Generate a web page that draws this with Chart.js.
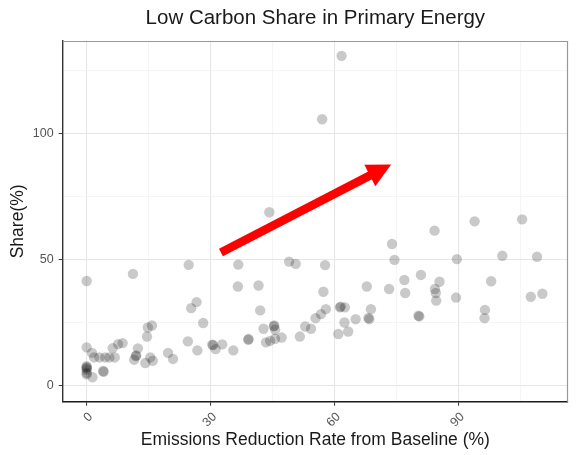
<!DOCTYPE html>
<html>
<head>
<meta charset="utf-8">
<script src="https://cdn.jsdelivr.net/npm/chart.js@4.4.1/dist/chart.umd.min.js"></script>
<style>
  html, body { margin: 0; padding: 0; background: #ffffff; }
  #wrap { width: 577px; height: 455px; position: relative; }
</style>
</head>
<body>
<div id="wrap"><canvas id="c" width="577" height="455"></canvas></div>
<script>
// Emissions reduction rate from baseline (%)
const reductionRate = [
  0, 0, 0, 0, 0, 0, 0, 0, 1.4, 1.3,
  1.8, 3.1, 4.5, 5.5, 6.8, 6.3, 7.6, 8.7, 4.0, 4.1,
  11.2, 12.4, 11.9, 12.0, 11.5, 14.2, 15.4, 16.0, 19.7, 20.9,
  14.8, 15.8, 14.6, 24.7, 25.3, 26.6, 24.5, 28.2, 26.8, 30.4,
  30.6, 31.2, 32.8, 35.5, 36.7, 36.6, 41.6, 42.0, 39.1, 39.2,
  42.8, 45.4, 45.3, 45.6, 43.4, 44.4, 45.6, 47.2, 51.6, 52.9,
  54.3, 49.0, 50.6, 44.2, 57.7, 57.3, 57.9, 56.7, 55.4, 61.5,
  61.3, 62.5, 62.4, 60.9, 63.3, 65.1, 68.4, 68.2, 68.8, 67.8,
  57.0, 61.7, 73.2, 73.9, 74.5, 76.9, 77.1, 80.9, 80.3, 80.5,
  84.2, 85.4, 84.3, 84.5, 84.6, 89.4, 89.6, 93.9, 105.4, 100.6,
  109.0, 97.9, 107.5, 110.3, 96.4, 96.3
];
// Low carbon share in primary energy (%)
const lowCarbonShare = [
  41.5, 15.1, 7.6, 7.2, 6.8, 6.2, 5.0, 4.4, 3.2, 12.9,
  11.1, 11.1, 11.1, 11.1, 11.1, 14.8, 16.4, 16.8, 5.7, 5.4,
  44.3, 14.7, 11.6, 11.9, 10.2, 8.9, 11.1, 9.8, 12.9, 10.5,
  23.0, 23.8, 19.4, 47.9, 30.7, 33.1, 17.5, 24.8, 13.9, 16.2,
  16.0, 14.4, 16.3, 13.9, 48.0, 39.3, 39.7, 29.8, 18.1, 18.4,
  22.5, 23.8, 23.5, 22.1, 17.1, 17.7, 18.5, 19.0, 19.4, 23.4,
  22.5, 49.2, 48.3, 68.8, 47.8, 37.2, 30.3, 28.3, 26.7, 31.3,
  31.0, 31.0, 25.0, 20.4, 21.4, 26.3, 26.3, 26.8, 30.3, 39.3,
  105.8, 131.0, 38.3, 56.2, 49.9, 41.9, 36.7, 43.9, 27.7, 27.4,
  61.5, 41.2, 38.3, 36.7, 33.7, 34.9, 50.2, 65.2, 66.0, 51.5,
  51.1, 41.4, 35.2, 36.4, 30.0, 26.7
];
// Axis ticks
const xTickLabels = [0, 30, 60, 90];
const yTickLabels = [0, 50, 100];
// Trend arrow annotation (data coordinates: [rate, share])
const arrowFrom = [32.5, 52.8];
const arrowTo = [73.7, 87.8];

const points = reductionRate.map((x, i) => ({ x: x, y: lowCarbonShare[i] }));
const FONT = "'Liberation Sans', Arial, Helvetica, sans-serif";

const frameAndArrow = {
  id: 'frameAndArrow',
  beforeDatasetsDraw(chart) {
    const { ctx, chartArea: a } = chart;
    ctx.save();
    ctx.strokeStyle = '#999999';
    ctx.lineWidth = 1.2;
    ctx.beginPath();
    ctx.moveTo(a.left, a.top + 0.5);
    ctx.lineTo(a.right - 0.5, a.top + 0.5);
    ctx.lineTo(a.right - 0.5, a.bottom);
    ctx.stroke();
    ctx.restore();
  },
  afterDatasetsDraw(chart) {
    const { ctx } = chart;
    const xs = chart.scales.x, ys = chart.scales.y;
    const x0 = xs.getPixelForValue(arrowFrom[0]), y0 = ys.getPixelForValue(arrowFrom[1]);
    const x1 = xs.getPixelForValue(arrowTo[0]), y1 = ys.getPixelForValue(arrowTo[1]);
    const ang = Math.atan2(y1 - y0, x1 - x0);
    const headLen = 24, headHalf = 12;
    const bx = x1 - headLen * Math.cos(ang), by = y1 - headLen * Math.sin(ang);
    ctx.save();
    ctx.strokeStyle = '#ff0000';
    ctx.fillStyle = '#ff0000';
    ctx.lineWidth = 8.5;
    ctx.lineCap = 'butt';
    ctx.beginPath();
    ctx.moveTo(x0, y0);
    ctx.lineTo(bx + 2 * Math.cos(ang), by + 2 * Math.sin(ang));
    ctx.stroke();
    ctx.beginPath();
    ctx.moveTo(x1, y1);
    ctx.lineTo(bx + headHalf * Math.sin(ang), by - headHalf * Math.cos(ang));
    ctx.lineTo(bx - headHalf * Math.sin(ang), by + headHalf * Math.cos(ang));
    ctx.closePath();
    ctx.fill();
    ctx.restore();
  }
};

new Chart(document.getElementById('c'), {
  type: 'scatter',
  data: {
    datasets: [{
      data: points,
      backgroundColor: 'rgba(0,0,0,0.21)',
      borderWidth: 0,
      pointRadius: 5.2,
      pointHoverRadius: 5.2
    }]
  },
  options: {
    responsive: false,
    animation: false,
    events: [],
    layout: { padding: { left: 0, right: 9, top: 0, bottom: 0 } },
    plugins: {
      legend: { display: false },
      tooltip: { enabled: false },
      title: {
        display: true,
        text: 'Low Carbon Share in Primary Energy',
        fullSize: false,
        color: '#1a1a1a',
        font: { family: FONT, size: 20.5, weight: 'normal', lineHeight: 1.2 },
        padding: { top: 5.7, bottom: 10.7 }
      }
    },
    scales: {
      x: {
        type: 'linear',
        min: -5.8,
        max: 116.5,
        afterFit(s) { s.height = 53.3; },
        ticks: {
          stepSize: 15,
          includeBounds: false,
          autoSkip: false,
          minRotation: 45,
          maxRotation: 45,
          labelOffset: 4,
          padding: 4,
          color: '#555555',
          font: { family: FONT, size: 12.5 },
          callback: v => xTickLabels.includes(v) ? String(v) : ''
        },
        grid: {
          color: c => (c.tick && xTickLabels.includes(c.tick.value)) ? '#e6e6e6' : '#f0f0f0',
          lineWidth: c => (c.tick && xTickLabels.includes(c.tick.value)) ? 1.1 : 0.7,
          tickColor: c => (c.tick && xTickLabels.includes(c.tick.value)) ? '#333333' : 'rgba(0,0,0,0)',
          tickLength: 4,
          tickWidth: 1
        },
        border: { display: true, color: '#1a1a1a', width: 1.4 },
        title: {
          display: true,
          text: 'Emissions Reduction Rate from Baseline (%)',
          color: '#1a1a1a',
          font: { family: FONT, size: 17.5, lineHeight: 1.2 },
          padding: { top: 0, bottom: 4.5 }
        }
      },
      y: {
        type: 'linear',
        min: -6.5,
        max: 136.9,
        afterFit(s) { s.width = 62.7; },
        ticks: {
          stepSize: 25,
          includeBounds: false,
          autoSkip: false,
          padding: 5,
          color: '#555555',
          font: { family: FONT, size: 12.5 },
          callback: v => yTickLabels.includes(v) ? String(v) : ''
        },
        grid: {
          color: c => (c.tick && yTickLabels.includes(c.tick.value)) ? '#e6e6e6' : '#f0f0f0',
          lineWidth: c => (c.tick && yTickLabels.includes(c.tick.value)) ? 1.1 : 0.7,
          tickColor: c => (c.tick && yTickLabels.includes(c.tick.value)) ? '#333333' : 'rgba(0,0,0,0)',
          tickLength: 4,
          tickWidth: 1
        },
        border: { display: true, color: '#333333', width: 1.4 },
        title: {
          display: true,
          text: 'Share(%)',
          color: '#1a1a1a',
          font: { family: FONT, size: 17.5, lineHeight: 1.2 },
          padding: { top: 7.5, bottom: 0 }
        }
      }
    }
  },
  plugins: [frameAndArrow]
});
</script>
</body>
</html>
